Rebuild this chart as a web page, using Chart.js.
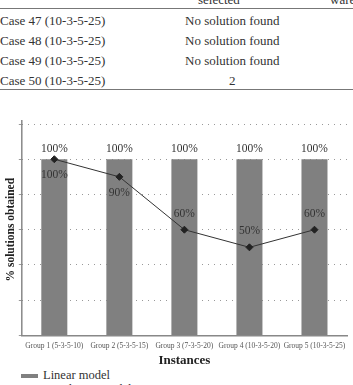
<!DOCTYPE html>
<html>
<head>
<meta charset="utf-8">
<script src="https://cdn.jsdelivr.net/npm/chart.js@4.4.0/dist/chart.umd.min.js"></script>
<style>
    html, body { margin: 0; padding: 0; background: #fff; overflow: hidden; }
    body { width: 353px; height: 385px; position: relative; font-family: 'Liberation Serif', serif; color: #333; }
    .rule { position: absolute; left: 0; width: 353px; height: 0; border-top: 1.5px solid #777; }
    .cell { position: absolute; font-size: 13px; line-height: 13px; white-space: nowrap; }
    #chartBox { position: absolute; left: 0; top: 100px; width: 353px; height: 268px; }
    .legend { position: absolute; left: 21px; font-size: 12.5px; line-height: 13px; }
    .legend .sw { display: inline-block; width: 17px; height: 4px; background: #808080; vertical-align: middle; margin-right: 5px; }
</style>
</head>
<body>
    <!-- хвост таблицы над графиком -->
    <div class="cell" style="left:198px; top:-7px;">selected</div>
    <div class="cell" style="left:330px; top:-7px;">ware</div>
    <div class="rule" style="top:8px;"></div>
    <div class="cell" style="left:0; top:14px;">Case 47 (10-3-5-25)</div>
    <div class="cell" style="left:185px; top:14px;">No solution found</div>
    <div class="cell" style="left:0; top:34px;">Case 48 (10-3-5-25)</div>
    <div class="cell" style="left:185px; top:34px;">No solution found</div>
    <div class="cell" style="left:0; top:54px;">Case 49 (10-3-5-25)</div>
    <div class="cell" style="left:185px; top:54px;">No solution found</div>
    <div class="cell" style="left:0; top:74px;">Case 50 (10-3-5-25)</div>
    <div class="cell" style="left:229px; top:74px;">2</div>
    <div class="rule" style="top:89px;"></div>

    <div id="chartBox"><canvas id="mainChart"></canvas></div>

    <div class="legend" style="top:369px;"><span class="sw"></span>Linear model</div>
    <div class="legend" style="top:383px;"><span class="sw" style="background:none; border-top:1px solid #333; height:0;"></span>Non-linear model</div>

<script>
// Данные графика
const groups = ['Group 1 (5-3-5-10)', 'Group 2 (5-3-5-15)', 'Group 3 (7-3-5-20)', 'Group 4 (10-3-5-20)', 'Group 5 (10-3-5-25)'];
const linearValues = [100, 100, 100, 100, 100];
const nonLinearValues = [100, 90, 60, 50, 60];
const yTicks = [0, 20, 40, 60, 80, 100, 120];

// Где рисовать подписи линии: под точкой или над ней
const lineLabelSide = ['below', 'below', 'above', 'above', 'above'];

const serif = "'Liberation Serif', serif";

// Подписи значений над столбцами и у точек
const valueLabels = {
    id: 'valueLabels',
    afterDatasetsDraw(chart) {
        const ctx = chart.ctx;
        ctx.save();
        ctx.font = '11.5px ' + serif;
        ctx.fillStyle = '#333';
        ctx.textAlign = 'center';
        ctx.textBaseline = 'middle';
        chart.data.datasets.forEach(function(ds, di) {
            const meta = chart.getDatasetMeta(di);
            meta.data.forEach(function(el, i) {
                const text = ds.data[i] + '%';
                if (ds.type === 'line') {
                    const dy = lineLabelSide[i] === 'below' ? 16 : -16;
                    ctx.fillText(text, el.x, el.y + dy);
                } else {
                    ctx.fillText(text, el.x, el.y - 10);
                }
            });
        });
        ctx.restore();
    }
};

// Сплошная линия оси Y (сетка пунктирная)
const solidYAxis = {
    id: 'solidYAxis',
    afterDraw(chart) {
        const area = chart.chartArea;
        const ctx = chart.ctx;
        ctx.save();
        ctx.strokeStyle = '#888';
        ctx.lineWidth = 1.5;
        ctx.beginPath();
        ctx.moveTo(area.left, area.top - 4);
        ctx.lineTo(area.left, area.bottom);
        ctx.stroke();
        ctx.restore();
    }
};

document.addEventListener('DOMContentLoaded', function() {
    const ctx = document.getElementById('mainChart');

    new Chart(ctx, {
        data: {
            labels: groups,
            datasets: [
                {
                    type: 'line',
                    label: 'Non-linear model',
                    data: nonLinearValues,
                    borderColor: '#333',
                    borderWidth: 1,
                    pointStyle: 'rectRot',
                    pointRadius: 3.5,
                    pointBackgroundColor: '#222',
                    pointBorderColor: '#222',
                    tension: 0,
                    order: 0
                },
                {
                    type: 'bar',
                    label: 'Linear model',
                    data: linearValues,
                    backgroundColor: '#808080',
                    categoryPercentage: 1,
                    barPercentage: 0.4,
                    order: 1
                }
            ]
        },
        options: {
            responsive: true,
            maintainAspectRatio: false,
            animation: false,
            layout: { padding: { top: 24, right: 6, left: 0, bottom: 0 } },
            plugins: {
                legend: { display: false },
                tooltip: { enabled: false }
            },
            scales: {
                x: {
                    grid: { display: false, drawTicks: false, tickLength: 0 },
                    border: { color: '#888', width: 1.5 },
                    ticks: {
                        color: '#555',
                        font: { family: serif, size: 7.5 },
                        maxRotation: 0,
                        autoSkip: false,
                        padding: 6
                    },
                    title: {
                        display: true,
                        text: 'Instances',
                        color: '#222',
                        font: { family: serif, size: 13, weight: 'bold' },
                        padding: { top: -4, bottom: 0 }
                    }
                },
                y: {
                    min: yTicks[0],
                    max: yTicks[yTicks.length - 1],
                    afterBuildTicks: function(axis) {
                        axis.ticks = yTicks.map(function(v) { return { value: v }; });
                    },
                    grid: {
                        color: '#999',
                        tickLength: 3,
                        drawOnChartArea: true
                    },
                    border: { display: false, dash: [1, 5] },
                    ticks: { display: false },
                    title: {
                        display: true,
                        text: '% solutions obtained',
                        color: '#222',
                        font: { family: serif, size: 11.5, weight: 'bold' },
                        padding: { top: 4, bottom: 1 }
                    }
                }
            }
        },
        plugins: [valueLabels, solidYAxis]
    });
});
</script>
</body>
</html>
